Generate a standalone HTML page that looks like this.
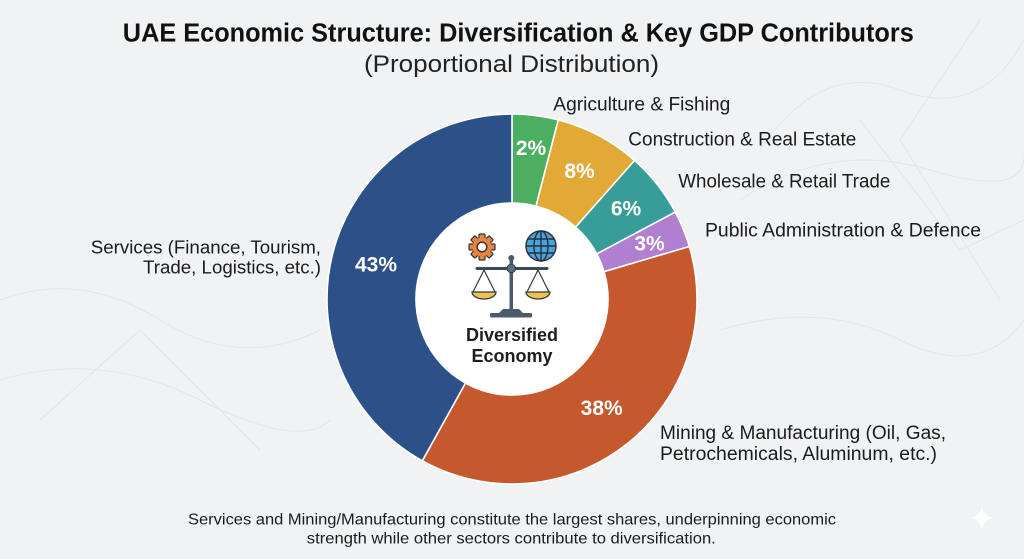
<!DOCTYPE html>
<html>
<head>
<meta charset="utf-8">
<style>
html,body{margin:0;padding:0;background:#f0f2f4;}
svg{display:block;}
text{font-family:"Liberation Sans",Arial,sans-serif;}
</style>
</head>
<body>
<svg width="1024" height="559" viewBox="0 0 1024 559" xmlns="http://www.w3.org/2000/svg">
  <rect x="0" y="0" width="1024" height="559" fill="#f0f2f4"/>
  <!-- faint background network lines -->
  <g fill="none" stroke="#e2e5e9" stroke-width="1">
    <path d="M760,150 Q820,60 900,90 T1024,40"/>
    <path d="M740,200 Q830,140 930,170 T1024,150"/>
    <path d="M860,120 L960,250 L1024,220"/>
    <path d="M980,20 L900,140 L1000,300"/>
    <path d="M720,330 Q820,300 900,340 T1024,320"/>
    <path d="M0,300 Q80,270 160,320 T320,330"/>
    <path d="M0,380 Q100,350 200,400 T330,420"/>
    <path d="M40,420 L140,330 L260,450"/>
  </g>

  <!-- Title -->
  <text x="518.3" y="41.7" font-size="25.5" font-weight="bold" fill="#111" text-anchor="middle" textLength="791" lengthAdjust="spacingAndGlyphs">UAE Economic Structure: Diversification &amp; Key GDP Contributors</text>
  <text x="511.5" y="72" font-size="24" fill="#222" text-anchor="middle" textLength="295" lengthAdjust="spacingAndGlyphs">(Proportional Distribution)</text>

  <!-- Donut -->
  <g stroke="#ffffff" stroke-width="1.6" stroke-linejoin="round">
    <path d="M512,114 A185,185 0 0 1 558.3,119.9 L536.0,206.1 A96,96 0 0 0 512,203 Z" fill="#4cae60"/>
    <path d="M558.3,119.9 A185,185 0 0 1 634.6,160.4 L575.6,227.1 A96,96 0 0 0 536.0,206.1 Z" fill="#e2a937"/>
    <path d="M634.6,160.4 A185,185 0 0 1 675.3,212.1 L596.8,253.9 A96,96 0 0 0 575.6,227.1 Z" fill="#389d98"/>
    <path d="M675.3,212.1 A185,185 0 0 1 689.4,246.5 L604.0,271.7 A96,96 0 0 0 596.8,253.9 Z" fill="#b07fd0"/>
    <path d="M689.4,246.5 A185,185 0 0 1 422.3,460.8 L465.5,383.0 A96,96 0 0 0 604.0,271.7 Z" fill="#c5582d"/>
    <path d="M422.3,460.8 A185,185 0 0 1 512,114 L512,203 A96,96 0 0 0 465.5,383.0 Z" fill="#2c5189"/>
  </g>
  <circle cx="512" cy="299" r="95.5" fill="#ffffff"/>

  <!-- percent labels -->
  <g font-size="21" font-weight="bold" fill="#ffffff" text-anchor="middle">
    <text x="531" y="155">2%</text>
    <text x="579.5" y="178">8%</text>
    <text x="626" y="215.7">6%</text>
    <text x="649.5" y="250.5">3%</text>
    <text x="376" y="271.5">43%</text>
    <text x="601.7" y="415">38%</text>
  </g>

  <!-- Center icon -->
  <!-- gear -->
  <g transform="translate(482,247)">
    <g fill="#e8843c" stroke="#2e3238" stroke-width="1.2">
      <rect x="-3" y="-13" width="6" height="26" rx="1"/>
      <rect x="-3" y="-13" width="6" height="26" rx="1" transform="rotate(45)"/>
      <rect x="-3" y="-13" width="6" height="26" rx="1" transform="rotate(90)"/>
      <rect x="-3" y="-13" width="6" height="26" rx="1" transform="rotate(135)"/>
    </g>
    <circle r="9.5" fill="#e8843c"/>
    <circle r="4.8" fill="#ffffff" stroke="#2e3238" stroke-width="1.4"/>
  </g>
  <!-- globe -->
  <g transform="translate(541,246)" fill="none" stroke="#25303a" stroke-width="1.4">
    <circle r="15" fill="#4aa3dc"/>
    <ellipse rx="7" ry="15"/>
    <line x1="0" y1="-15" x2="0" y2="15"/>
    <line x1="-15" y1="0" x2="15" y2="0"/>
    <path d="M-13,-7 L13,-7 M-13,7 L13,7"/>
  </g>
  <!-- scale -->
  <g>
    <rect x="509.5" y="259" width="3.5" height="53" fill="#4b5b6b"/>
    <circle cx="511.3" cy="258" r="3" fill="#4b5b6b"/>
    <line x1="477" y1="268.5" x2="547" y2="268.5" stroke="#3b4855" stroke-width="3" stroke-linecap="round"/>
    <circle cx="511.3" cy="268.5" r="4.2" fill="#5c6d7e" stroke="#2e3a46" stroke-width="1"/>
    <g stroke="#2e3a46" stroke-width="1.2" fill="none">
      <path d="M484,270 L473,292 M484,270 L495,292"/>
      <path d="M538,270 L527,292 M538,270 L549,292"/>
    </g>
    <path d="M472,292 L496,292 A12,7 0 0 1 472,292 Z" fill="#f2c14e" stroke="#2e3a46" stroke-width="1.3"/>
    <path d="M526,292 L550,292 A12,7 0 0 1 526,292 Z" fill="#f2c14e" stroke="#2e3a46" stroke-width="1.3"/>
    <path d="M503,309 L519,309 L523,313 L499,313 Z" fill="#4b5b6b"/>
    <rect x="490" y="313" width="42" height="4.5" rx="1.5" fill="#4b5b6b"/>
  </g>
  <text x="512" y="341" font-size="18" font-weight="bold" fill="#1e1e1e" text-anchor="middle">Diversified</text>
  <text x="512" y="362" font-size="18" font-weight="bold" fill="#1e1e1e" text-anchor="middle">Economy</text>

  <!-- Category labels -->
  <g font-size="19" fill="#1b1b1b">
    <text x="553.3" y="110.5" textLength="177" lengthAdjust="spacingAndGlyphs">Agriculture &amp; Fishing</text>
    <text x="628.3" y="145.7" textLength="228" lengthAdjust="spacingAndGlyphs">Construction &amp; Real Estate</text>
    <text x="678.3" y="187.7" textLength="212" lengthAdjust="spacingAndGlyphs">Wholesale &amp; Retail Trade</text>
    <text x="705" y="236.7" textLength="276" lengthAdjust="spacingAndGlyphs">Public Administration &amp; Defence</text>
    <text x="660" y="439" textLength="286" lengthAdjust="spacingAndGlyphs">Mining &amp; Manufacturing (Oil, Gas,</text>
    <text x="660" y="460" textLength="277" lengthAdjust="spacingAndGlyphs">Petrochemicals, Aluminum, etc.)</text>
    <text x="321" y="253.3" text-anchor="end" font-size="18.7">Services (Finance, Tourism,</text>
    <text x="321" y="273.3" text-anchor="end" font-size="18.7">Trade, Logistics, etc.)</text>
  </g>

  <!-- Footer -->
  <g font-size="16" fill="#1b1b1b" text-anchor="middle">
    <text x="512" y="524.3" textLength="648" lengthAdjust="spacingAndGlyphs">Services and Mining/Manufacturing constitute the largest shares, underpinning economic</text>
    <text x="511.3" y="543.3" textLength="409" lengthAdjust="spacingAndGlyphs">strength while other sectors contribute to diversification.</text>
  </g>

  <!-- sparkle -->
  <path d="M982,506 Q984,516 994,518 Q984,520 982,530 Q980,520 970,518 Q980,516 982,506 Z" fill="#ffffff" opacity="0.8"/>
</svg>
</body>
</html>
